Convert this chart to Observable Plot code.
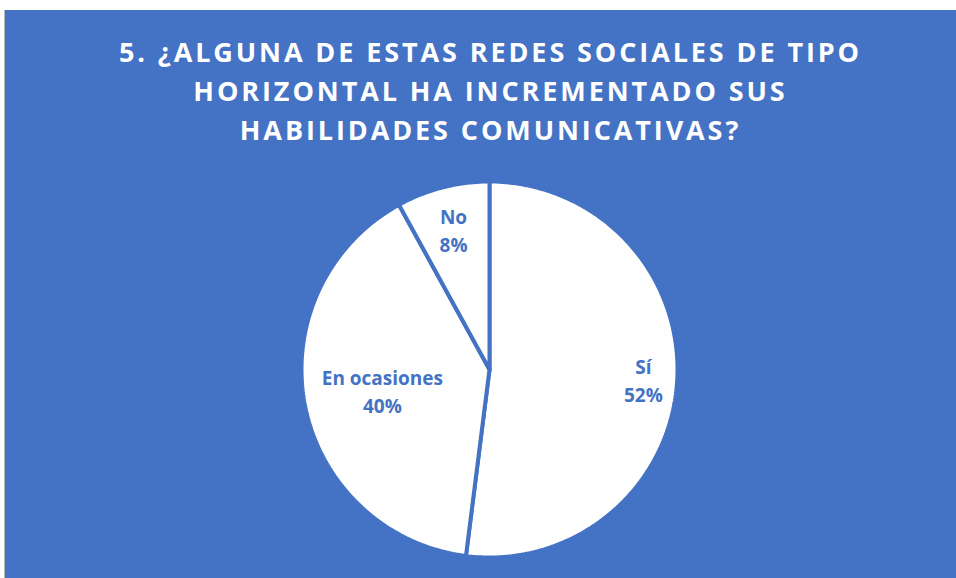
<!DOCTYPE html>
<html>
<head>
<meta charset="utf-8">
<script src="https://cdn.jsdelivr.net/npm/d3@7"></script>
<script src="https://cdn.jsdelivr.net/npm/@observablehq/plot@0.6"></script>
<style>
  html, body { margin: 0; padding: 0; background: #ffffff; }
  #frame {
    position: absolute; left: 4px; top: 10px; width: 952px; height: 568px;
    background: #4472C4; border-left: 1px solid #b8b8b8; box-sizing: border-box;
    overflow: hidden;
  }
  #title {
    position: absolute; left: 10px; top: 22px; width: 100%;
    text-align: center; color: #ffffff;
    font-family: "Open Sans", sans-serif; font-weight: 700;
    font-size: 27px; line-height: 39px; letter-spacing: 2.9px;
  }
  #chart { position: absolute; left: 0; top: 150px; }
</style>
</head>
<body>
<div id="frame">
  <div id="title">5. ¿ALGUNA DE ESTAS REDES SOCIALES DE TIPO<br>HORIZONTAL HA INCREMENTADO SUS<br>HABILIDADES COMUNICATIVAS?</div>
  <div id="chart"></div>
</div>
<script>
// ---- data ----
const categories = ["Sí", "En ocasiones", "No"];
const values = [52, 40, 8];
const valueLabels = ["52%", "40%", "8%"];

// ---- layout ----
const W = 951, H = 418;
const R = 188;            // pie radius in px
const cxPx = 484, cyPx = 209; // pie center within svg
const labelRadius = {"Sí": 0.82, "En ocasiones": 0.58, "No": 0.77};
const blue = "#4472C4";

const pie = d3.pie().sort(null).value(d => d.value).startAngle(0).endAngle(2 * Math.PI);
const arcs = pie(categories.map((c, i) => ({category: c, value: values[i], label: valueLabels[i]})));

// polygon points for each slice (in unit-radius coordinates)
const pts = [];
for (const a of arcs) {
  const cat = a.data.category;
  pts.push({cat, x: 0, y: 0});
  const n = Math.max(4, Math.ceil((a.endAngle - a.startAngle) / (2 * Math.PI) * 360));
  for (let k = 0; k <= n; k++) {
    const t = a.startAngle + (a.endAngle - a.startAngle) * k / n;
    pts.push({cat, x: Math.sin(t), y: Math.cos(t)});
  }
  pts.push({cat, x: 0, y: 0});
}

const labels = arcs.map(a => {
  const mid = (a.startAngle + a.endAngle) / 2;
  const r = labelRadius[a.data.category];
  return {x: r * Math.sin(mid), y: r * Math.cos(mid), text: a.data.category + "\n" + a.data.label};
});

const plot = Plot.plot({
  width: W, height: H,
  margin: 0,
  x: {domain: [-cxPx / R, (W - cxPx) / R], axis: null},
  y: {domain: [-(H - cyPx) / R, cyPx / R], axis: null},
  style: {background: "transparent", overflow: "visible"},
  marks: [
    Plot.line(pts, {x: "x", y: "y", z: "cat", fill: "#ffffff", stroke: blue, strokeWidth: 4, strokeLinejoin: "miter", curve: "linear"}),
    Plot.text(labels, {x: "x", y: "y", text: "text", fill: blue, fontSize: 19, fontWeight: 700,
      fontFamily: "Open Sans, sans-serif", lineHeight: 1.47})
  ]
});
document.getElementById("chart").appendChild(plot);
</script>
</body>
</html>
